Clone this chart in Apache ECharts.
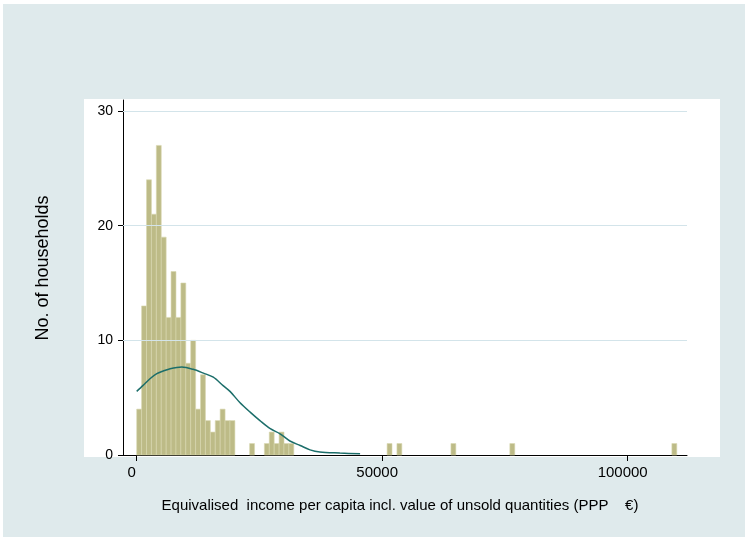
<!DOCTYPE html>
<html><head><meta charset="utf-8">
<script src="https://cdn.jsdelivr.net/npm/echarts@6/dist/echarts.min.js"></script>
<style>html,body{margin:0;padding:0;background:#fff}#c{width:748px;height:540px}</style>
</head><body><div id="c"></div>
<script>
// ---- data ----
const binWidth = 1000;
const mainBinCounts = [4, 13, 24, 21, 27, 19, 12, 16, 12, 15, 8, 10, 4, 7, 3, 2, 3, 4, 3, 3]; // bins starting at 0
const extraBinStarts = [23000, 26000, 27000, 28000, 29000, 30000, 31000, 51000, 53000, 64000, 76000, 109000];
const extraBinCounts = [1, 1, 2, 1, 2, 1, 1, 1, 1, 1, 1, 1];
const curveX = [0, 1300, 2700, 4100, 5400, 6800, 9200, 11500, 13600, 15600, 17600, 19000, 21000, 23100, 25100, 27200, 29200, 31200, 33300, 35300, 37300, 41400, 45500];
const curveY = [5.55, 6.07, 6.65, 7.09, 7.32, 7.53, 7.67, 7.47, 7.14, 6.79, 6.05, 5.55, 4.58, 3.74, 3.0, 2.29, 1.85, 1.22, 0.83, 0.45, 0.26, 0.17, 0.1];
const xTicks = [0, 50000, 100000];
const yTicks = [0, 10, 20, 30];
const xTitle = 'Equivalised  income per capita incl. value of unsold quantities (PPP    €)';
const yTitle = 'No. of households';

const FONT = '"Liberation Sans", Arial, Helvetica, sans-serif';

const bins = [];
mainBinCounts.forEach((c, i) => bins.push([i * binWidth, (i + 1) * binWidth, c]));
extraBinStarts.forEach((s, i) => bins.push([s, s + binWidth, extraBinCounts[i]]));
const curve = curveX.map((x, i) => [x, curveY[i]]);

const chart = echarts.init(document.getElementById('c'), null, {renderer: 'canvas'});
chart.setOption({
  animation: false,
  backgroundColor: '#ffffff',
  grid: {left: 123, right: 61, top: 100, bottom: 85, containLabel: false},
  graphic: [
    {type: 'rect', z: -20, silent: true, shape: {x: 3, y: 4, width: 742, height: 533}, style: {fill: '#dfeaec'}},
    {type: 'rect', z: -19, silent: true, shape: {x: 84, y: 99, width: 636, height: 358}, style: {fill: '#ffffff'}},
    {type: 'text', z: 10, x: 400, y: 506, style: {text: xTitle, font: '15px ' + FONT, fill: '#000', align: 'center', verticalAlign: 'middle'}},
    {type: 'text', z: 10, x: 43, y: 268, rotation: Math.PI / 2, style: {text: yTitle, font: '18px ' + FONT, fill: '#000', align: 'center', verticalAlign: 'middle'}}
  ],
  xAxis: {
    type: 'value', min: -2790, max: 112080,
    axisLine: {show: true, onZero: false, lineStyle: {color: '#000', width: 1}},
    axisTick: {show: true, length: 6, customValues: xTicks, lineStyle: {color: '#000'}},
    axisLabel: {customValues: xTicks, color: '#000', fontSize: 15, fontFamily: FONT, margin: 10, padding: [0, 10, 0, 0], formatter: v => String(v)},
    splitLine: {show: false}
  },
  yAxis: {
    type: 'value', min: 0, max: 30.96,
    axisLine: {show: true, onZero: false, lineStyle: {color: '#000', width: 1}},
    axisTick: {show: true, length: 5, customValues: yTicks, lineStyle: {color: '#000'}},
    axisLabel: {customValues: yTicks, color: '#000', fontSize: 14, fontFamily: FONT, margin: 10, formatter: v => String(v)},
    splitLine: {show: false}
  },
  series: [
    {
      type: 'line', data: [], z: 1, silent: true,
      markLine: {
        silent: true, symbol: ['none', 'none'], label: {show: false}, animation: false,
        lineStyle: {color: '#d3e4ea', width: 1, type: 'solid'},
        data: yTicks.slice(1).map(v => ({yAxis: v}))
      }
    },
    {
      type: 'custom', z: 2, data: bins,
      encode: {x: [0, 1], y: 2},
      renderItem: (params, api) => {
        const p0 = api.coord([api.value(0), api.value(2)]);
        const p1 = api.coord([api.value(1), 0]);
        return {
          type: 'rect',
          shape: {x: p0[0], y: p0[1], width: p1[0] - p0[0], height: p1[1] - p0[1]},
          style: {fill: '#bdbb87', stroke: '#d8d6b0', lineWidth: 0.6}
        };
      }
    },
    {
      type: 'line', z: 3, data: curve, smooth: 0.3, showSymbol: false, symbol: 'none',
      lineStyle: {color: '#1c6e6a', width: 1.5}
    }
  ]
});
</script></body></html>
